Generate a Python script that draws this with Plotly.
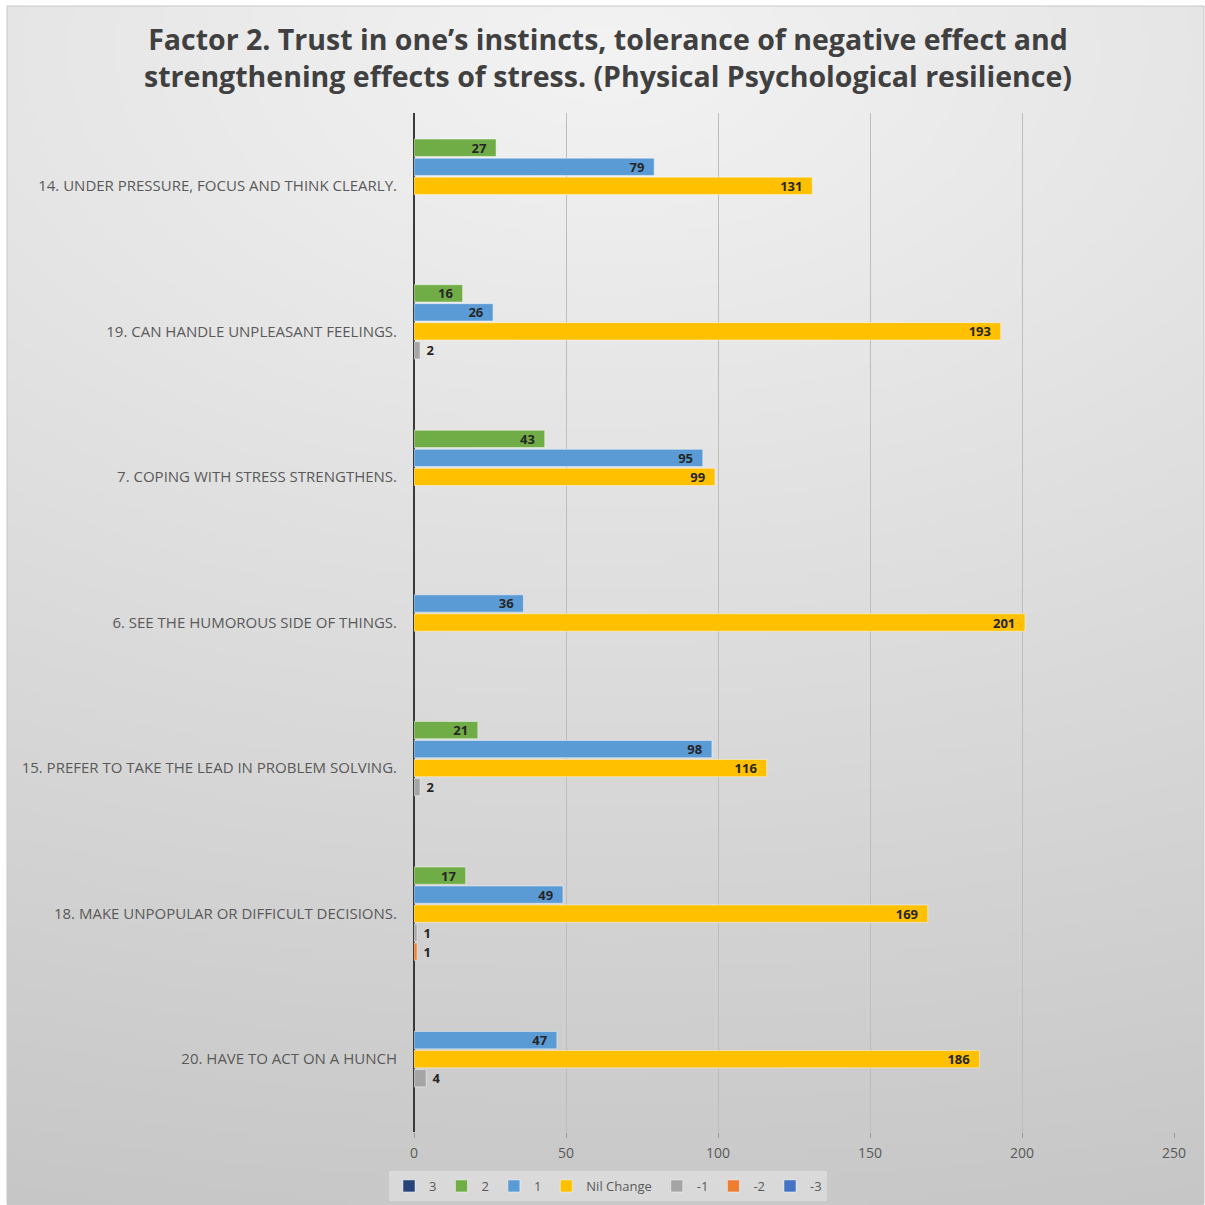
import base64
import struct
import zlib

import numpy as np
import plotly.graph_objects as go

# ---------------- data ----------------
categories = [
    "14. UNDER PRESSURE, FOCUS AND THINK CLEARLY.",
    "19. CAN HANDLE UNPLEASANT FEELINGS.",
    "7. COPING WITH STRESS STRENGTHENS.",
    "6. SEE THE HUMOROUS SIDE OF THINGS.",
    "15. PREFER TO TAKE THE LEAD IN PROBLEM SOLVING.",
    "18. MAKE UNPOPULAR OR DIFFICULT DECISIONS.",
    "20. HAVE TO ACT ON A HUNCH",
]
series_names = ["3", "2", "1", "Nil Change", "-1", "-2", "-3"]
vals_3 = [None, None, None, None, None, None, None]
vals_2 = [27, 16, 43, None, 21, 17, None]
vals_1 = [79, 26, 95, 36, 98, 49, 47]
vals_nil = [131, 193, 99, 201, 116, 169, 186]
vals_m1 = [None, 2, None, None, 2, 1, 4]
vals_m2 = [None, None, None, None, None, 1, None]
vals_m3 = [None, None, None, None, None, None, None]
x_ticks = [0, 50, 100, 150, 200, 250]

series_values = [vals_3, vals_2, vals_1, vals_nil, vals_m1, vals_m2, vals_m3]
colors = ["#264478", "#70ad47", "#5b9bd5", "#ffc000", "#a5a5a5", "#ed7d31", "#4472c4"]

# ---------------- background gradient image ----------------
W_IMG, H_IMG = 240, 240
FW, FH = 1197.0, 1199.0
ys, xs = np.mgrid[0:H_IMG, 0:W_IMG]
px = (xs + 0.5) / W_IMG * FW
py = (ys + 0.5) / H_IMG * FH
d = np.sqrt(((px - 600) * 0.6) ** 2 + (py - 45) ** 2)
g = np.clip(243 - 0.037 * d, 0, 255).astype(np.uint8)


def make_png(arr):
    h, w = arr.shape
    raw = b"".join(b"\x00" + arr[i].tobytes() for i in range(h))

    def chunk(t, data):
        c = struct.pack(">I", len(data)) + t + data
        return c + struct.pack(">I", zlib.crc32(t + data) & 0xFFFFFFFF)

    return (
        b"\x89PNG\r\n\x1a\n"
        + chunk(b"IHDR", struct.pack(">IIBBBBB", w, h, 8, 0, 0, 0, 0))
        + chunk(b"IDAT", zlib.compress(raw, 9))
        + chunk(b"IEND", b"")
    )


bg_src = "data:image/png;base64," + base64.b64encode(make_png(g)).decode()

# ---------------- figure ----------------
FIG_W = FIG_H = 1205
L, R, T, B = 414, 31, 113, 73
PW = FIG_W - L - R
PH = FIG_H - T - B

LABEL_FONT = dict(family="Open Sans", size=13, color="#262626", weight="bold")


def label_text(v):
    if v is None:
        return ""
    if v >= 10:
        return f"{v}\u00a0\u00a0"
    return f"\u00a0{v}"


def label_pos(v):
    return "inside" if (v is not None and v >= 10) else "outside"


fig = go.Figure()
for name, vals, col in zip(series_names, series_values, colors):
    fig.add_trace(
        go.Bar(
            name=name,
            y=categories,
            x=vals,
            orientation="h",
            marker=dict(color=col, line=dict(color="rgba(255,255,255,0.45)", width=1)),
            text=[label_text(v) for v in vals],
            textposition=[label_pos(v) for v in vals],
            insidetextanchor="end",
            textangle=0,
            textfont=LABEL_FONT,
            outsidetextfont=LABEL_FONT,
            insidetextfont=LABEL_FONT,
            cliponaxis=False,
            hoverinfo="x+y+name",
        )
    )


def px2x(p):
    return (p - L) / PW


def py2y(p):
    return (FIG_H - B - p) / PH


fig.update_layout(
    width=FIG_W,
    height=FIG_H,
    margin=dict(l=L, r=R, t=T, b=B, pad=0, autoexpand=False),
    paper_bgcolor="white",
    plot_bgcolor="rgba(0,0,0,0)",
    barmode="group",
    bargap=0.086,
    bargroupgap=0.09,
    uniformtext=dict(minsize=13, mode="show"),
    title=dict(
        text="Factor 2. Trust in one’s instincts, tolerance of negative effect and<br>strengthening effects of stress. (Physical Psychological resilience)",
        x=608 / FIG_W,
        xanchor="center",
        y=1 - 50 / FIG_H,
        yanchor="middle",
        font=dict(family="Open Sans", size=28.5, color="#404040", weight="bold"),
    ),
    font=dict(family="Open Sans", color="#595959"),
    showlegend=True,
    legend=dict(
        orientation="h",
        xref="container",
        yref="container",
        x=608 / FIG_W,
        xanchor="center",
        y=1 - 1186 / FIG_H,
        yanchor="middle",
        bgcolor="rgba(232,232,232,0.55)",
        font=dict(family="Open Sans", size=13, color="#595959"),
        itemwidth=30,
        traceorder="normal",
    ),
    images=[
        dict(
            source=bg_src,
            xref="paper",
            yref="paper",
            x=px2x(7),
            y=py2y(6),
            sizex=1197 / PW,
            sizey=1199 / PH,
            xanchor="left",
            yanchor="top",
            sizing="stretch",
            layer="below",
        )
    ],
    shapes=[
        dict(
            type="rect",
            xref="paper",
            yref="paper",
            x0=px2x(7),
            x1=px2x(1204),
            y0=py2y(1204),
            y1=py2y(6),
            line=dict(color="#c8c8c8", width=1),
            fillcolor="rgba(0,0,0,0)",
            layer="above",
        )
    ],
)

fig.update_xaxes(
    range=[0, 250],
    tickvals=x_ticks,
    ticktext=[str(t) for t in x_ticks],
    showgrid=True,
    gridcolor="#bdbdbd",
    gridwidth=1,
    zeroline=True,
    zerolinecolor="#3a3a3a",
    zerolinewidth=2,
    ticks="outside",
    ticklen=5,
    tickcolor="#9a9a9a",
    ticklabelstandoff=3,
    tickfont=dict(family="Open Sans", size=14, color="#595959"),
    showline=False,
    fixedrange=True,
)
fig.update_yaxes(
    autorange="reversed",
    showgrid=False,
    showline=False,
    ticks="",
    ticklabelstandoff=16,
    tickfont=dict(family="Open Sans", size=15, color="#595959"),
    fixedrange=True,
)

fig.write_html("out.html")
